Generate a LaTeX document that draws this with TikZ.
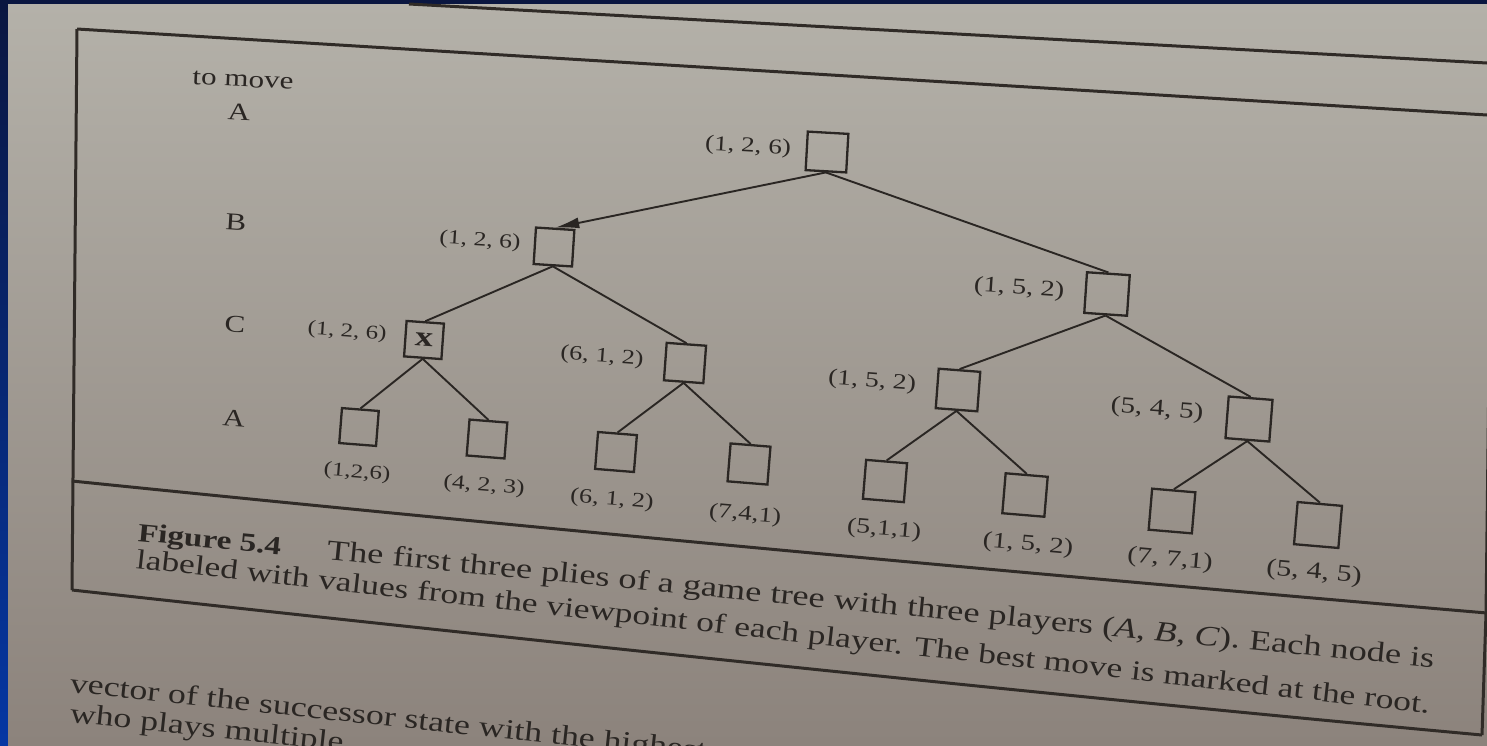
\documentclass[tikz,border=0pt]{standalone}
\usepackage{fontspec}
\setmainfont{Liberation Serif}[FakeStretch=1.28]
\usetikzlibrary{arrows.meta}

\definecolor{ink}{HTML}{2A2623}
\definecolor{rulec}{HTML}{302B27}
\definecolor{pagetop}{HTML}{B4B1A9}
\definecolor{pagebot}{HTML}{8C837C}
\definecolor{slidetop}{HTML}{0A1640}
\definecolor{slidebot}{HTML}{0537A3}

\tikzset{
  box/.style={draw=ink, line width=1.15pt, minimum width=20pt, minimum height=19pt, inner sep=0pt},
  lbl/.style={text=ink, inner sep=0pt, font=\fontsize{10.6}{12}\selectfont},
  ply/.style={text=ink, inner sep=0pt, font=\fontsize{13.5}{16}\selectfont},
  captext/.style={text=ink, inner sep=0pt, anchor=base west, font=\fontsize{14}{16}\selectfont},
  bodytext/.style={text=ink, inner sep=0pt, anchor=base west, font=\fontsize{14}{16}\selectfont},
  branch/.style={draw=ink, line width=0.95pt},
  framerule/.style={draw=rulec, line width=1.5pt},
}

% node that follows the local tilt and size of the photographed page
\newcommand\pn[5][]{%
  \pgfmathsetmacro\pnsc{1+0.0002*(#3-750)}%
  \pgfmathsetmacro\pnrot{-(3+0.0045*(#4-100))}%
  \node[#1, scale=\pnsc, rotate=\pnrot] (#2) at (#3,#4) {#5};}

\begin{document}
\begin{tikzpicture}[x=0.5pt, y=-0.5pt]
\useasboundingbox (0,0) rectangle (1487,745);
\clip (0,0) rectangle (1487,745);

% slide background and the page
\shade[top color=slidetop, bottom color=slidebot] (0,0) rectangle (1487,745);
\shade[top color=pagetop, bottom color=pagebot] (8,4) rectangle (1487,745);

% rules of the figure frame
\draw[framerule] (409,4) -- (1487,63);
\draw[framerule] (77,29) -- (1487,115);
\draw[framerule] (77,29) -- (72,590);
\draw[framerule] (72,481) .. controls (600,535) and (1100,580) .. (1487,613);
\draw[framerule] (72,590) .. controls (600,648) and (1100,700) .. (1482,735);
\draw[framerule] (1482,735) -- (1486,613) -- (1492,115);

% player to move at each ply
\pn[ply]{tomove}{243}{80}{to move}
\pn[ply]{plyA}{239}{112}{A}
\pn[ply]{plyB}{236}{222}{B}
\pn[ply]{plyC}{235}{324}{C}
\pn[ply]{plyA2}{234}{418}{A}

% tree nodes
\pn[box]{root}{827}{152}{}
\pn[box]{b1}{554}{247}{}
\pn[box]{b2}{1107}{294}{}
\pn[box, text=ink, font=\bfseries\fontsize{15}{12}\selectfont]{c1}{424}{340}{x}
\pn[box]{c2}{685}{363}{}
\pn[box]{c3}{958}{390}{}
\pn[box]{c4}{1249}{419}{}
\pn[box]{l1}{359}{427}{}
\pn[box]{l2}{487}{439}{}
\pn[box]{l3}{616}{452}{}
\pn[box]{l4}{749}{464}{}
\pn[box]{l5}{885}{481}{}
\pn[box]{l6}{1025}{495}{}
\pn[box]{l7}{1172}{511}{}
\pn[box]{l8}{1318}{525}{}

% value vectors
\pn[lbl]{vroot}{748}{147}{(1, 2, 6)}
\pn[lbl]{vb1}{480}{241}{(1, 2, 6)}
\pn[lbl]{vb2}{1019}{289}{(1, 5, 2)}
\pn[lbl]{vc1}{347}{332}{(1, 2, 6)}
\pn[lbl]{vc2}{602}{357}{(6, 1, 2)}
\pn[lbl]{vc3}{872}{382}{(1, 5, 2)}
\pn[lbl]{vc4}{1157}{410}{(5, 4, 5)}
\pn[lbl]{vl1}{357}{473}{(1,2,6)}
\pn[lbl]{vl2}{484}{486}{(4, 2, 3)}
\pn[lbl]{vl3}{612}{500}{(6, 1, 2)}
\pn[lbl]{vl4}{745}{515}{(7,4,1)}
\pn[lbl]{vl5}{884}{530}{(5,1,1)}
\pn[lbl]{vl6}{1028}{545}{(1, 5, 2)}
\pn[lbl]{vl7}{1170}{560}{(7, 7,1)}
\pn[lbl]{vl8}{1314}{573}{(5, 4, 5)}

% branches; the best move from the root carries the arrow
\draw[branch, -{Latex[length=12pt, width=5.5pt]}] (root.south) -- (b1.north);
\draw[branch] (root.south) -- (b2.north);
\draw[branch] (b1.south) -- (c1.north);
\draw[branch] (b1.south) -- (c2.north);
\draw[branch] (b2.south) -- (c3.north);
\draw[branch] (b2.south) -- (c4.north);
\draw[branch] (c1.south) -- (l1.north);
\draw[branch] (c1.south) -- (l2.north);
\draw[branch] (c2.south) -- (l3.north);
\draw[branch] (c2.south) -- (l4.north);
\draw[branch] (c3.south) -- (l5.north);
\draw[branch] (c3.south) -- (l6.north);
\draw[branch] (c4.south) -- (l7.north);
\draw[branch] (c4.south) -- (l8.north);

% caption
\node[captext, font=\bfseries\fontsize{14}{16}\selectfont, scale=0.93, rotate=-5.4] (capfig) at (137,541) {Figure 5.4};
\node[captext, scale=1.015, rotate=-5.6] (capa) at (326,559) {The first three plies of a game tree with three players (\textit{A}, \textit{B}, \textit{C}). Each node is};
\node[captext, scale=0.99, rotate=-6.4] (capb) at (135,568) {labeled with values from the viewpoint of each player. The best move is marked at the root.};

% running text below the figure
\node[bodytext, rotate=-6.1] (texta) at (69,692) {vector of the successor state with the highest};
\node[bodytext, rotate=-6.1] (textb) at (69,722) {who plays multiple};
\end{tikzpicture}
\end{document}
